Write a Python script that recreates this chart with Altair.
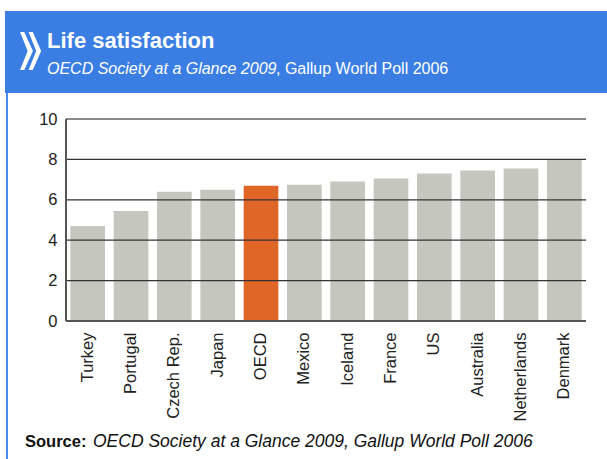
import altair as alt
import pandas as pd

countries = ["Turkey", "Portugal", "Czech Rep.", "Japan", "OECD", "Mexico",
             "Iceland", "France", "US", "Australia", "Netherlands", "Denmark"]
values = [4.7, 5.45, 6.4, 6.5, 6.7, 6.75, 6.9, 7.05, 7.3, 7.45, 7.55, 8.0]
y_ticks = [0, 2, 4, 6, 8, 10]
grid_lines = [2, 4, 6, 8]
title_text = "Life satisfaction"
subtitle_italic = "OECD Society at a Glance 2009"
subtitle_regular = ", Gallup World Poll 2006"
source_bold = "Source:"
source_italic = "OECD Society at a Glance 2009, Gallup World Poll 2006"

FONT = "Liberation Sans"
BLUE = "#3a7ee3"

df = pd.DataFrame({"country": countries, "value": values})
df["highlight"] = df["country"] == "OECD"

x_enc = alt.X("country:N", sort=countries,
              scale=alt.Scale(paddingInner=0.2, paddingOuter=0.1),
              axis=alt.Axis(title=None, labelAngle=-90, ticks=False, domain=False,
                            labelFont=FONT, labelFontSize=16.5, labelColor="#222",
                            labelPadding=11))
y_scale = alt.Scale(domain=[0, 10], nice=False)

bars = alt.Chart(df).mark_bar().encode(
    x=x_enc,
    y=alt.Y("value:Q", scale=y_scale,
            axis=alt.Axis(title=None, values=y_ticks, ticks=False, domain=False,
                          grid=False, labelFont=FONT, labelFontSize=16.5,
                          labelColor="#222", labelPadding=9)),
    color=alt.condition(alt.datum.highlight, alt.value("#e06628"), alt.value("#c5c6bd")),
)

grid = alt.Chart(pd.DataFrame({"v": grid_lines})).mark_rule(
    color="#333", strokeWidth=1.2).encode(y=alt.Y("v:Q", scale=y_scale))

top = alt.Chart(pd.DataFrame({"v": [10]})).mark_rule(
    color="#888", strokeWidth=2).encode(y=alt.Y("v:Q", scale=y_scale))

base_line = alt.Chart(pd.DataFrame({"v": [0]})).mark_rule(
    color="#555", strokeWidth=2).encode(y=alt.Y("v:Q", scale=y_scale))

left_line = alt.Chart(pd.DataFrame({"v": [0]})).mark_rule(
    color="#555", strokeWidth=2).encode(x=alt.value(0), y=alt.value(0), y2=alt.value(202))

one = alt.Data(values=[{"a": 1}])

header = alt.Chart(one).mark_rect(color=BLUE).encode(
    x=alt.value(-61), x2=alt.value(541), y=alt.value(-108), y2=alt.value(-26))

border = alt.Chart(one).mark_rule(color="#4a8ae8", strokeWidth=2).encode(
    x=alt.value(-59), y=alt.value(-26), y2=alt.value(345))

icon_path = ("M -0.55 -1 L -0.33 -1 L 0.13 0 L -0.33 1 L -0.55 1 L -0.15 0 Z "
             "M -0.1 -1 L 0.12 -1 L 0.56 0 L 0.12 1 L -0.1 1 L 0.3 0 Z")
icon = alt.Chart(one).mark_point(shape=icon_path, filled=True, color="white",
                                 opacity=1, size=1444, strokeWidth=0).encode(
    x=alt.value(-35.5), y=alt.value(-68))

title = alt.Chart(one).mark_text(text=title_text, font=FONT, fontSize=22,
                                 fontWeight="bold", color="white", align="left",
                                 baseline="alphabetic").encode(
    x=alt.value(-19), y=alt.value(-71))

sub1 = alt.Chart(one).mark_text(text=subtitle_italic, font=FONT, fontSize=16,
                                fontStyle="italic", color="white", align="left",
                                baseline="alphabetic").encode(
    x=alt.value(-19), y=alt.value(-45))
sub2 = alt.Chart(one).mark_text(text=subtitle_regular, font=FONT, fontSize=16,
                                color="white", align="left",
                                baseline="alphabetic").encode(
    x=alt.value(210), y=alt.value(-45))

src1 = alt.Chart(one).mark_text(text=source_bold, font=FONT, fontSize=16.5,
                                fontWeight="bold", color="#111", align="left",
                                baseline="alphabetic").encode(
    x=alt.value(-41), y=alt.value(328))
src2 = alt.Chart(one).mark_text(text=source_italic, font=FONT, fontSize=17.5,
                                fontStyle="italic", color="#111", align="left",
                                baseline="alphabetic").encode(
    x=alt.value(27), y=alt.value(328))

chart = alt.layer(
    bars, grid, top, base_line, left_line,
    header, border, icon, title, sub1, sub2, src1, src2
).properties(
    width=520, height=202,
    autosize=alt.AutoSizeParams(type="none"),
    padding={"left": 66, "top": 119, "right": 21, "bottom": 138},
    background="white",
).configure_view(stroke=None)

chart.save("out.html", embed_options={"renderer": "svg", "actions": False})
